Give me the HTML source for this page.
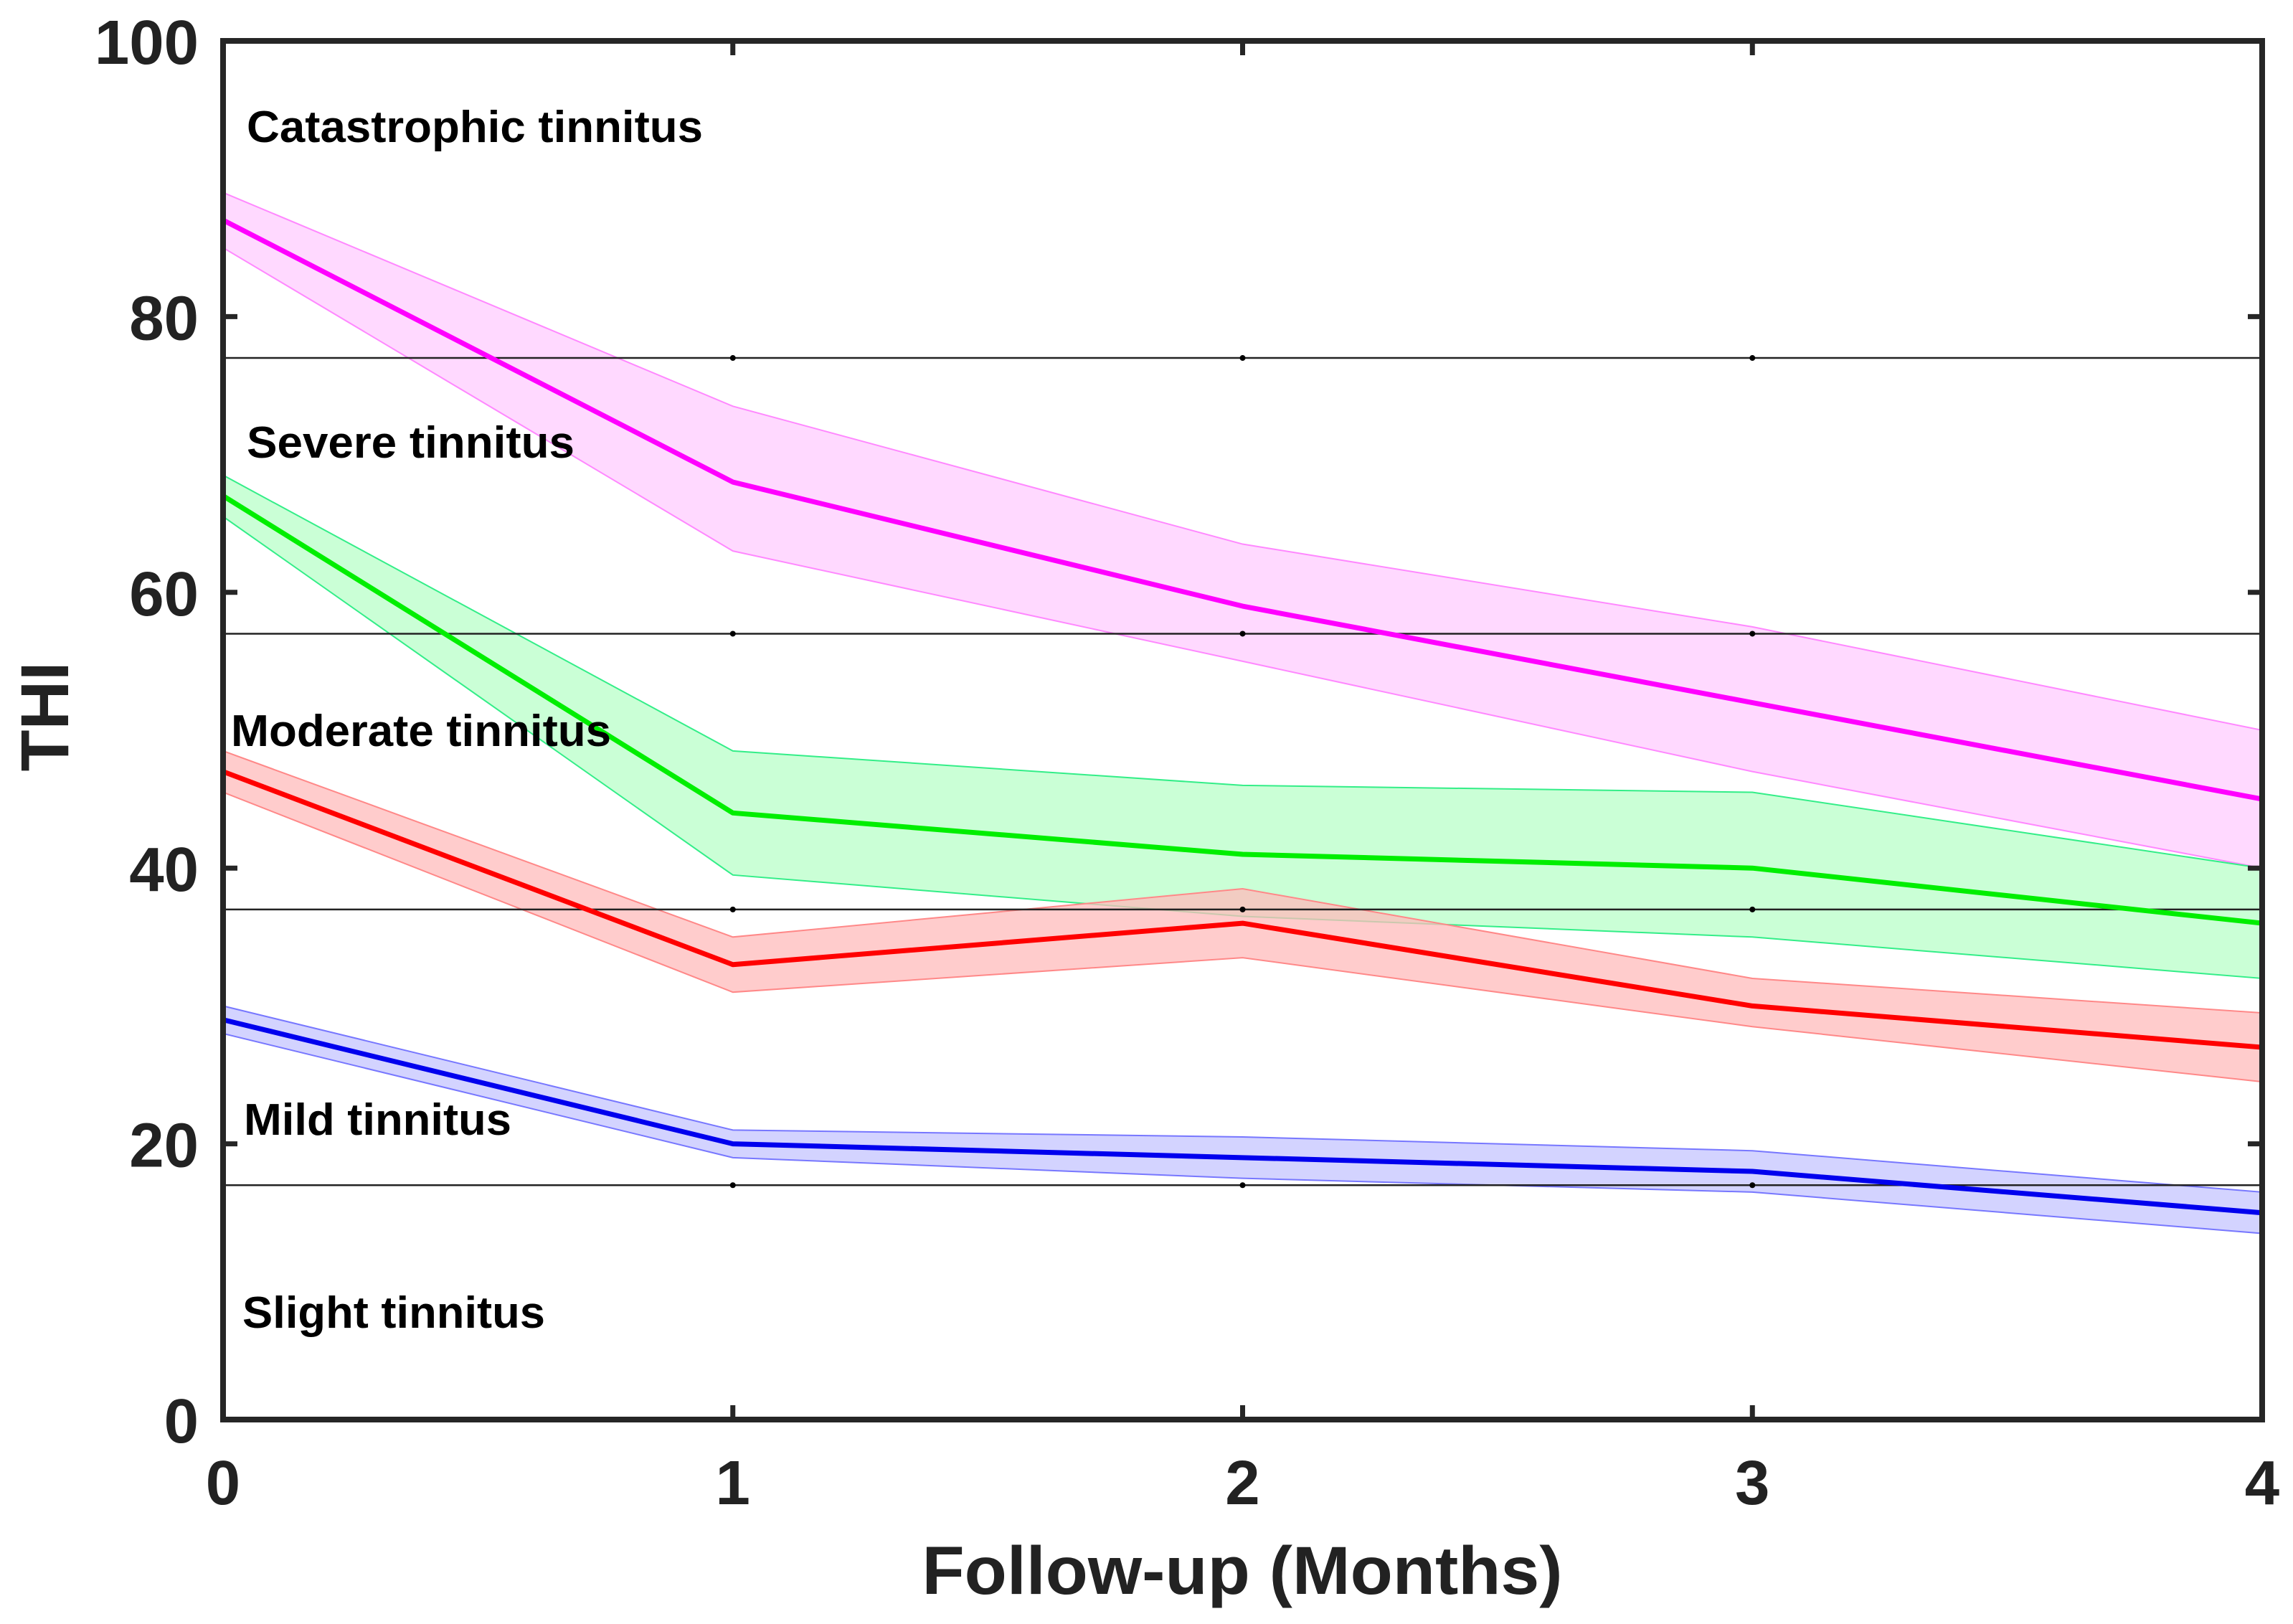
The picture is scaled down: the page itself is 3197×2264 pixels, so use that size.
<!DOCTYPE html>
<html><head><meta charset="utf-8"><style>
html,body{margin:0;padding:0;background:#fff;}
svg{display:block;font-family:"Liberation Sans",Arial,sans-serif;font-weight:bold;}
</style></head><body>
<svg id="chart" width="3197" height="2264" viewBox="0 0 3197 2264" xmlns="http://www.w3.org/2000/svg">
<g id="bands"></g>
<g id="refs"></g>
<g id="lines"></g>
<g id="axes"></g>
<g id="labels"></g>
</svg>
<script>
const months=[0,1,2,3,4];
const xTicks=[0,1,2,3,4];
const yTicks=[0,20,40,60,80,100];
const thresholds=[77,57,37,17];
const catMean=[87,68,59,52,45];
const catUpper=[89,73.5,63.5,57.5,50];
const catLower=[85,63,55,47,40];
const sevMean=[67,44,41,40,36];
const sevUpper=[68.5,48.5,46,45.5,40];
const sevLower=[65.5,39.5,36.5,35,32];
const modMean=[47,33,36,30,27];
const modUpper=[48.5,35,38.5,32,29.5];
const modLower=[45.5,31,33.5,28.5,24.5];
const mildMean=[29,20,19,18,15];
const mildUpper=[30,21,20.5,19.5,16.5];
const mildLower=[28,19,17.5,16.5,13.5];
const bandLabels=["Catastrophic tinnitus","Severe tinnitus","Moderate tinnitus","Mild tinnitus","Slight tinnitus"];

const L=311,R=3154,T=57,B=1979;
const X=v=>L+(v-0)/(4-0)*(R-L);
const Y=v=>B-(v-0)/(100-0)*(B-T);
const NS="http://www.w3.org/2000/svg";
function mk(tag,parent,attrs){const e=document.createElementNS(NS,tag);for(const k in attrs)e.setAttribute(k,attrs[k]);parent.appendChild(e);return e;}
const gB=document.getElementById('bands'),gR=document.getElementById('refs'),gL=document.getElementById('lines'),gA=document.getElementById('axes'),gT=document.getElementById('labels');

const series=[
 {n:'catastrophic',m:catMean,u:catUpper,l:catLower,c:'#ff00ff',f:'#ffccff',e:'#ff88ff'},
 {n:'severe',m:sevMean,u:sevUpper,l:sevLower,c:'#00ee00',f:'#b8ffc8',e:'#33ee88'},
 {n:'moderate',m:modMean,u:modUpper,l:modLower,c:'#ff0000',f:'#ffbbbb',e:'#ff8888'},
 {n:'mild',m:mildMean,u:mildUpper,l:mildLower,c:'#0000ee',f:'#c4c4ff',e:'#7777ff'}
];
series.forEach(s=>{
  let pts=months.map((x,i)=>X(x)+','+Y(s.u[i]));
  pts=pts.concat(months.slice().reverse().map((x,j)=>{const i=months.length-1-j;return X(x)+','+Y(s.l[i]);}));
  const p=mk('polygon',gB,{points:pts.join(' '),fill:s.f,'fill-opacity':0.75,stroke:s.e,'stroke-width':2});
  
  
  const ln=mk('polyline',gL,{points:months.map((x,i)=>X(x)+','+Y(s.m[i])).join(' '),fill:'none',stroke:s.c,'stroke-width':7,'stroke-linejoin':'round'});
  
  
});
thresholds.forEach(t=>{
  const l=mk('line',gR,{x1:L,x2:R,y1:Y(t),y2:Y(t),stroke:'#222','stroke-width':2.5});
  
  
  xTicks.forEach(x=>{const d=mk('circle',gR,{cx:X(x),cy:Y(t),r:4,fill:'#000'});
    
    });
});
// frame
const fr=mk('rect',gA,{x:L,y:T,width:R-L,height:B-T,fill:'none',stroke:'#262626','stroke-width':8});


yTicks.forEach(v=>{
  [[L,L+20],[R,R-20]].forEach(([a,b])=>{const t=mk('line',gA,{x1:a,x2:b,y1:Y(v),y2:Y(v),stroke:'#262626','stroke-width':7});
    
    });
  const tx=mk('text',gA,{x:277,y:Y(v)+32,'text-anchor':'end','font-size':87,fill:'#222'});
  tx.textContent=v;
  
  
});
xTicks.forEach(v=>{
  [[B,B-20],[T,T+20]].forEach(([a,b])=>{const t=mk('line',gA,{x1:X(v),x2:X(v),y1:a,y2:b,stroke:'#262626','stroke-width':7});
    
    });
  const tx=mk('text',gA,{x:X(v),y:2097,'text-anchor':'middle','font-size':87,fill:'#222'});
  tx.textContent=v;
  
  
});
const xt=mk('text',gA,{x:1732,y:2222,'text-anchor':'middle','font-size':95,fill:'#222',textLength:893,lengthAdjust:'spacingAndGlyphs'});
xt.textContent='Follow-up (Months)';


const yt=mk('text',gA,{x:0,y:0,'text-anchor':'middle','font-size':95,fill:'#222',transform:'translate(95,999) rotate(-90)'});
yt.textContent='THI';


const labPos=[[344,198,636],[344,638,457],[322,1040,530],[340,1582,373],[338,1851,422]];
bandLabels.forEach((s,i)=>{
  const t=mk('text',gT,{x:labPos[i][0],y:labPos[i][1],'font-size':62,fill:'#000',textLength:labPos[i][2],lengthAdjust:'spacingAndGlyphs'});
  t.textContent=s;
  
  
});
</script>
</body></html>
